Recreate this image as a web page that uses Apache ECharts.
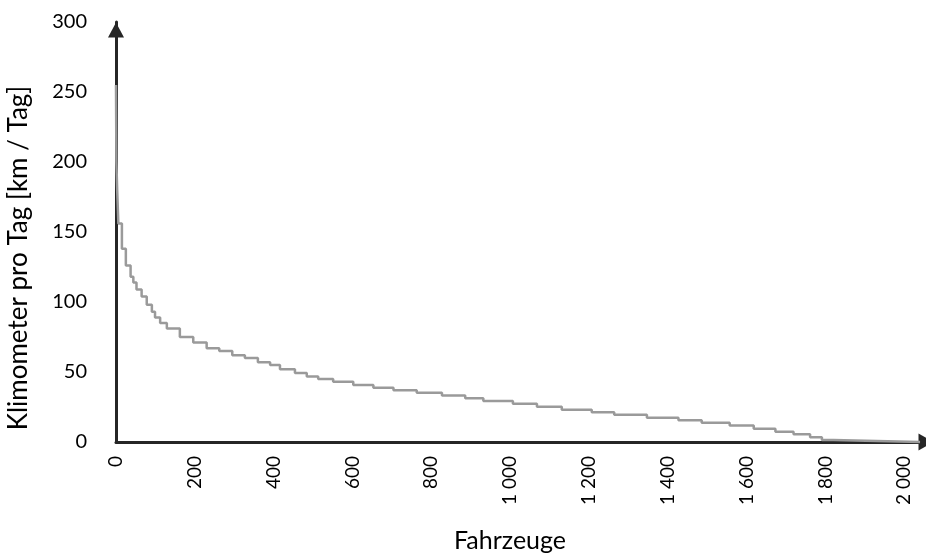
<!DOCTYPE html>
<html lang="de">
<head>
    <meta charset="UTF-8">
    <title>Kilometer pro Tag</title>
    <script src="https://cdn.jsdelivr.net/npm/echarts@6/dist/echarts.min.js"></script>
    <style>
        html,body{margin:0;padding:0;background:#fff;}
        #main{width:926px;height:553px;}
    </style>
</head>
<body>
<div id="main"></div>
<script>
    // Fahrzeuge (Beginn jeder Stufe) und km pro Tag, sortiert absteigend
    var vehicles=[0,1,3,6,15,25,37,44,52,65,78,91,99,112,129,162,196,230,262,295,327,360,391,416,
        454,484,513,551,602,653,704,763,827,886,932,1007,1068,1131,1207,1264,1347,1427,1486,
        1557,1618,1673,1719,1761,1791,1820,2040];
    var kmPerDay=[255,200,180,156,138,126,118,114,109,104,98,93,89,85,81,75,71,67,65,62,60,57,55,52,
        49.3,46.7,45,43,40.7,38.8,37,35.2,33.3,31.2,29.3,27.4,25.2,23.1,21.2,19.5,17.4,15.5,13.8,
        11.7,9.5,7.4,5.5,3.4,1.4,0,0];
    var xTicks=[0,200,400,600,800,1000,1200,1400,1600,1800,2000];
    var xTickLabels=['0','200','400','600','800','1 000','1 200','1 400','1 600','1 800','2 000'];
    var yTicks=[0,50,100,150,200,250,300];

    var points=[];
    for(var i=0;i<vehicles.length;i++){
        points.push([vehicles[i],kmPerDay[i]]);
    }

    var font='Lato';
    var chart=echarts.init(document.getElementById('main'));
    var option={
        animation:false,
        grid:{left:116,right:2,top:22,bottom:111,containLabel:false,outerBoundsMode:'none'},
        xAxis:{
            type:'value',
            min:0,
            max:2050,
            interval:200,
            name:'Fahrzeuge',
            nameLocation:'middle',
            nameGap:86,
            nameTextStyle:{fontFamily:font,fontSize:25,color:'#000',padding:[0,20,0,0]},
            splitLine:{show:false},
            axisTick:{show:false},
            axisLine:{
                lineStyle:{color:'#262626',width:3},
                symbol:['none','triangle'],
                symbolSize:[17,15],
                symbolOffset:[0,2]
            },
            axisLabel:{
                rotate:90,
                margin:14,
                fontFamily:font,
                fontSize:19,
                color:'#000',
                formatter:function(v){
                    var k=xTicks.indexOf(v);
                    return k>=0?xTickLabels[k]:'';
                }
            }
        },
        yAxis:{
            type:'value',
            min:0,
            max:300,
            interval:50,
            name:'Klimometer pro Tag [km / Tag]',
            nameLocation:'middle',
            nameGap:84,
            nameTextStyle:{fontFamily:font,fontSize:26,color:'#000',padding:[0,52,0,0]},
            splitLine:{show:false},
            axisTick:{show:false},
            axisLine:{
                lineStyle:{color:'#262626',width:3},
                symbol:['none','triangle'],
                symbolSize:[16,15],
                symbolOffset:[0,-8]
            },
            axisLabel:{
                margin:29,
                fontFamily:font,
                fontSize:20,
                color:'#000',
                formatter:function(v){return yTicks.indexOf(v)>=0?String(v):'';}
            }
        },
        series:[{
            type:'line',
            step:'end',
            data:points,
            showSymbol:false,
            clip:false,
            lineStyle:{color:'#9a9a9a',width:2.5}
        }]
    };
    chart.setOption(option);
</script>
</body>
</html>
